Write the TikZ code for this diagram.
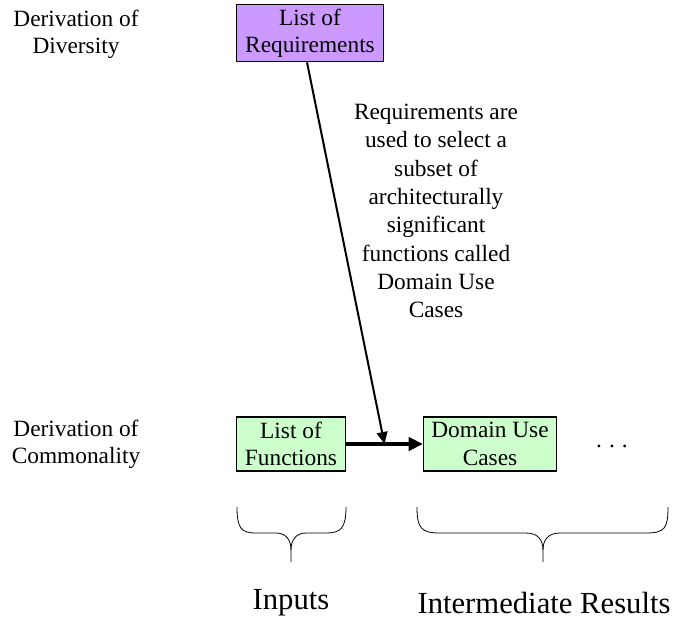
\documentclass[tikz,border=0pt]{standalone}
\usepackage{fontspec}
\setmainfont{Liberation Serif}
\usetikzlibrary{arrows.meta,calc}

\definecolor{reqviolet}{HTML}{CC99FF}
\definecolor{funcgreen}{HTML}{CCFFCC}

\tikzset{
    txt/.style={font=\rmfamily\fontsize{17.5}{20.5}\selectfont, align=center},
    Box/.style={txt, draw, line width=0.9pt, inner sep=0pt, minimum height=40.5pt},
    Brace/.style={line width=0.6pt},
    Caption/.style={font=\rmfamily\fontsize{23}{27}\selectfont}
}

\begin{document}
\begin{tikzpicture}[x=0.75pt,y=-0.75pt]
    \useasboundingbox (0,0) rectangle (675,621);
    % side labels
    \node[txt] (diversity)   at (76,34)  {Derivation of\\Diversity};
    \node[txt] (commonality) at (76,444) {Derivation of\\Commonality};
    % boxes
    \node[Box, fill=reqviolet, minimum width=110pt, minimum height=43pt] (req) at (310,33) {List of\\Requirements};
    \node[Box, fill=funcgreen, minimum width=82pt] (func) at (291,444) {List of\\Functions};
    \node[Box, fill=funcgreen, minimum width=100pt] (duc) at (490,444) {Domain Use\\Cases};
    \node[txt] (dots) at (612,446) {.\hspace{5.3pt}.\hspace{5.3pt}.};
    % note on the requirements arrow
    \node[txt, font=\rmfamily\fontsize{17.5}{21.2}\selectfont] (note) at (436,211)
        {Requirements are\\used to select a\\subset of\\architecturally\\significant\\functions called\\Domain Use\\Cases};
    % arrows
    \coordinate (meet) at ($(func.east)!0.5!(duc.west)$);
    \draw[line width=2.4pt, -{Triangle[length=10.5pt,width=10pt]}] (func) -- (duc);
    \draw[line width=1.5pt, -{Triangle[length=9pt,width=8pt]}] ([xshift=-2.25pt]req.south) -- (meet);
    % braces
    \draw[Brace] (237,507) .. controls (237,528) and (241,533) .. (256,533) -- (276,533)
        .. controls (286,533) and (291,540) .. (291,550) -- (291,562);
    \draw[Brace] (291,550) .. controls (291,540) and (296,533) .. (306,533) -- (326,533)
        .. controls (341,533) and (346,528) .. (346,507);
    \draw[Brace] (417,507) .. controls (417,528) and (421,533) .. (440,533) -- (526,533)
        .. controls (538,533) and (543,540) .. (543,550) -- (543,562);
    \draw[Brace] (543,550) .. controls (543,540) and (548,533) .. (560,533) -- (646,533)
        .. controls (665,533) and (668,528) .. (668,507);
    % bottom captions
    \node[Caption] (inputs)  at (291,603) {Inputs};
    \node[Caption] (results) at (544,603) {Intermediate Results};
\end{tikzpicture}
\end{document}
